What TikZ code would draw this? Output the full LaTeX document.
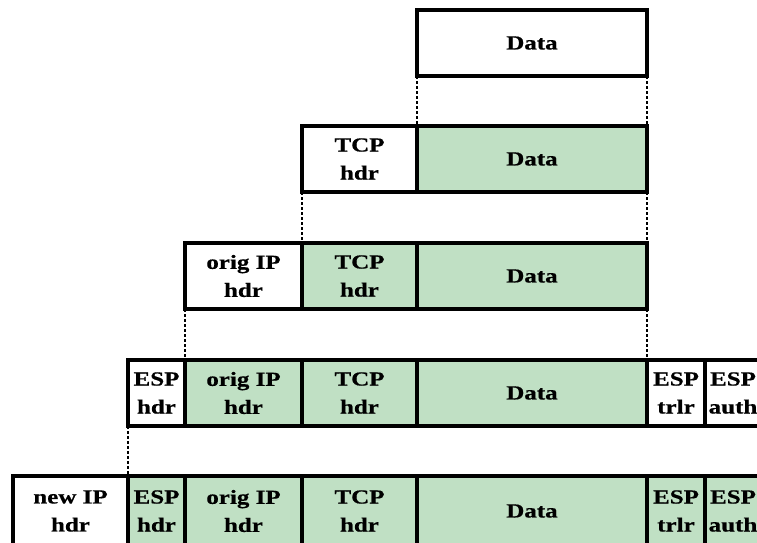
\documentclass[tikz,border=0pt]{standalone}
\usepackage{fontspec}
\newfontfamily\cellfam{Liberation Serif Bold}[FakeStretch=1.25,FakeBold=0.6]
\definecolor{cellgreen}{RGB}{192,224,196}
\begin{document}
\begin{tikzpicture}[x=1pt,y=-1pt,
  cell/.style={draw, line width=3.2pt, anchor=north west, inner sep=0pt, outer sep=0pt,
    align=center, minimum height=66pt,
    font=\cellfam\fontsize{20}{28}\selectfont},
  wcell/.style={cell, fill=white},
  gcell/.style={cell, fill=cellgreen},
  conn/.style={line width=2pt, dash pattern=on 2.5pt off 2.5pt}]
\useasboundingbox (0,0) rectangle (757,542);
\clip (0,0) rectangle (757,542);
% row 1
\node[wcell, minimum width=230pt] (r1d) at (417,10) {Data};
% row 2
\node[wcell, minimum width=115pt] (r2t) at (302,126) {TCP\\hdr};
\node[gcell, minimum width=230pt] (r2d) at (417,126) {Data};
% row 3
\node[wcell, minimum width=117pt] (r3o) at (185,243) {orig IP\\hdr};
\node[gcell, minimum width=115pt] (r3t) at (302,243) {TCP\\hdr};
\node[gcell, minimum width=230pt] (r3d) at (417,243) {Data};
% row 4
\node[wcell, minimum width=57pt] (r4e) at (128,360) {ESP\\hdr};
\node[gcell, minimum width=117pt] (r4o) at (185,360) {orig IP\\hdr};
\node[gcell, minimum width=115pt] (r4t) at (302,360) {TCP\\hdr};
\node[gcell, minimum width=230pt] (r4d) at (417,360) {Data};
\node[wcell, minimum width=58pt] (r4r) at (647,360) {ESP\\trlr};
\node[wcell, minimum width=56pt] (r4a) at (705,360) {ESP\\auth};
% row 5
\node[wcell, minimum width=115pt, minimum height=70pt] (r5n) at (13,476) {new IP\\hdr};
\node[gcell, minimum width=57pt, minimum height=70pt] (r5e) at (128,476) {ESP\\hdr};
\node[gcell, minimum width=117pt, minimum height=70pt] (r5o) at (185,476) {orig IP\\hdr};
\node[gcell, minimum width=115pt, minimum height=70pt] (r5t) at (302,476) {TCP\\hdr};
\node[gcell, minimum width=230pt, minimum height=70pt] (r5d) at (417,476) {Data};
\node[gcell, minimum width=58pt, minimum height=70pt] (r5r) at (647,476) {ESP\\trlr};
\node[gcell, minimum width=56pt, minimum height=70pt] (r5a) at (705,476) {ESP\\auth};
% connectors
\draw[conn] (r1d.south west) -- (r2d.north west);
\draw[conn] (r1d.south east) -- (r2d.north east);
\draw[conn] (r2t.south west) -- (r3t.north west);
\draw[conn] (r2d.south east) -- (r3d.north east);
\draw[conn] (r3o.south west) -- (r4o.north west);
\draw[conn] (r3d.south east) -- (r4d.north east);
\draw[conn] (r4e.south west) -- (r5e.north west);
\end{tikzpicture}
\end{document}
